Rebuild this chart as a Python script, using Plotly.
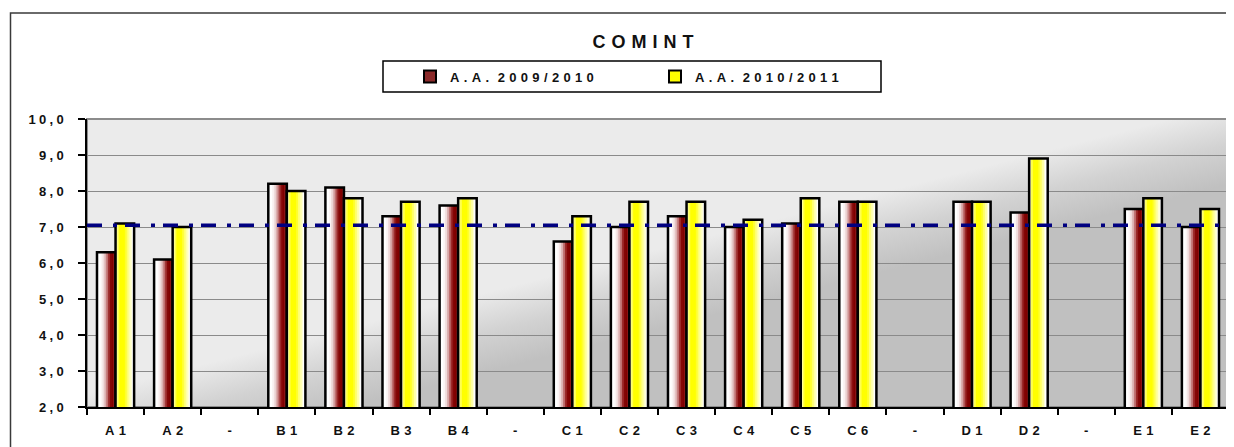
import base64

import plotly.graph_objects as go

# dati
categorie = ["A\u20041", "A\u20042", "-", "B\u20041", "B\u20042", "B\u20043", "B\u20044", "-",
             "C\u20041", "C\u20042", "C\u20043", "C\u20044", "C\u20045", "C\u20046", "-",
             "D\u20041", "D\u20042", "-", "E\u20041", "E\u20042"]
aa_2009_2010 = [6.3, 6.1, None, 8.2, 8.1, 7.3, 7.6, None, 6.6, 7.0, 7.3, 7.0,
                7.1, 7.7, None, 7.7, 7.4, None, 7.5, 7.0]
aa_2010_2011 = [7.1, 7.0, None, 8.0, 7.8, 7.7, 7.8, None, 7.3, 7.7, 7.7, 7.2,
                7.8, 7.7, None, 7.7, 8.9, None, 7.8, 7.5]
media = 7.05
y_ticks = [2, 3, 4, 5, 6, 7, 8, 9, 10]
y_tick_labels = ["2\u2005,\u20050", "3\u2005,\u20050", "4\u2005,\u20050", "5\u2005,\u20050",
                 "6\u2005,\u20050", "7\u2005,\u20050", "8\u2005,\u20050", "9\u2005,\u20050",
                 "1\u20050\u2005,\u20050"]
sp = "\u2004"
serie = [
    (sp.join("A.A.") + sp + sp + sp.join("2009/2010"), aa_2009_2010, "#8b2a2a",
     ["#ffffff", "#ffffff", "#fbf4f4", "#f0dcdc", "#dcb0b0", "#c07070", "#9c2a2a", "#840606", "#800000", "#8a1414"]),
    (sp.join("A.A.") + sp + sp + sp.join("2010/2011"), aa_2010_2011, "#ffff00",
     ["#ffffc0", "#ffff50", "#ffff00", "#ffff00", "#ffff00", "#ffff30", "#ffff70", "#ffffa8", "#ffffd8", "#ffffff"]),
]

FONT = "Arial, Liberation Sans, sans-serif"
# la pagina html ha un margine di 8 px: le coordinate sotto sono quelle dello schermo
OX, OY = 8, 8
W, H = 1234 - OX, 447 - OY
L, R, T, B = 87 - OX, 5, 119 - OY, 40
PW, PH = W - L - R, H - T - B
BAR_W = 0.325


def px_x(sx):
    return (sx - OX - L) / PW


def px_y(sy):
    return 1 - (sy - OY - T) / PH


x = list(range(len(categorie)))

# sfondo sfumato diagonale dell'area del grafico
bg_svg = f"""<svg xmlns="http://www.w3.org/2000/svg" width="{PW}" height="{PH}" viewBox="0 0 {PW} {PH}" preserveAspectRatio="none">
<defs><linearGradient id="g" gradientUnits="userSpaceOnUse" x1="603" y1="122" x2="622" y2="197">
<stop offset="0" stop-color="#ebebeb"/><stop offset="0.5" stop-color="#d2d2d2"/><stop offset="1" stop-color="#c0c0c0"/>
</linearGradient></defs><rect width="{PW}" height="{PH}" fill="url(#g)"/></svg>"""
bg_uri = "data:image/svg+xml;base64," + base64.b64encode(bg_svg.encode()).decode()

fig = go.Figure()

for k, (nome, valori, colore, sfumatura) in enumerate(serie):
    start = -BAR_W if k == 0 else 0.0
    n = len(sfumatura)
    for i, c in enumerate(sfumatura):
        fig.add_trace(go.Bar(
            x=x, y=valori, offset=start + i * BAR_W / n, width=BAR_W - i * BAR_W / n,
            marker=dict(color=c, line=dict(width=0)), showlegend=False, hoverinfo="skip",
        ))
    fig.add_trace(go.Bar(
        x=x, y=valori, offset=start, width=BAR_W, name=nome, showlegend=False,
        marker=dict(color="rgba(0,0,0,0)", line=dict(color="black", width=2.5)),
    ))

for nome, valori, colore, sfumatura in serie:
    fig.add_trace(go.Bar(x=[None], y=[None], name=nome,
                         marker=dict(color=colore, line=dict(color="black", width=2))))

fig.add_hline(y=media, line=dict(color="#000080", width=3.5, dash="15px,11px,4px,8px"))

fig.add_layout_image(dict(source=bg_uri, xref="paper", yref="paper", x=0, y=1, sizex=1, sizey=1,
                          xanchor="left", yanchor="top", sizing="stretch", layer="below"))

# bordo dell'area del grafico, riquadro della legenda e cornice esterna
fig.add_shape(type="rect", xref="paper", yref="paper", x0=0, x1=1, y0=0, y1=1,
              line=dict(color="#8c8c8c", width=2), layer="below")
fig.add_shape(type="rect", xref="paper", yref="paper",
              x0=px_x(383), x1=px_x(881), y0=px_y(92), y1=px_y(61),
              line=dict(color="black", width=1.5), fillcolor="white", layer="below")
fig.add_shape(type="rect", xref="paper", yref="paper",
              x0=px_x(10.5), x1=1.2, y0=-0.5, y1=px_y(13),
              line=dict(color="#3a3a3a", width=1.5))

fig.update_layout(
    width=W, height=H,
    margin=dict(l=L, r=R, t=T, b=B, autoexpand=False),
    paper_bgcolor="white", plot_bgcolor="rgba(0,0,0,0)",
    barmode="overlay",
    font=dict(family=FONT, color="#111111", size=12),
    title=dict(text="C\u2004O\u2004M\u2004I\u2004N\u2004T", x=px_x(643), xref="paper", xanchor="center",
               y=1 - (42 - OY) / H, yref="container", yanchor="middle",
               font=dict(family=FONT, size=18, weight="bold", color="#111111")),
    legend=dict(orientation="h", x=px_x(410), xanchor="left", y=px_y(76.5), yanchor="middle",
                borderwidth=0, bgcolor="rgba(0,0,0,0)",
                font=dict(family=FONT, size=13, weight="bold", color="#111111"),
                entrywidth=200, itemwidth=30, traceorder="normal"),
    showlegend=True,
)

fig.update_xaxes(range=[-0.5, len(categorie) - 0.5], tickmode="array", tickvals=x, ticktext=categorie,
                 ticks="", showgrid=False, zeroline=False, showline=True, linecolor="black", linewidth=1.5,
                 ticklabelstandoff=11,
                 tickfont=dict(family=FONT, size=13, weight="bold", color="#111111"),
                 minor=dict(tickmode="array", tickvals=[v - 0.5 for v in x] + [len(x) - 0.5],
                            ticks="outside", ticklen=6, tickcolor="black", tickwidth=1.5, showgrid=False),
                 fixedrange=True)
fig.update_yaxes(range=[2, 10], tickmode="array", tickvals=y_ticks, ticktext=y_tick_labels,
                 ticks="outside", ticklen=7, tickcolor="black", tickwidth=1.5,
                 showgrid=True, gridcolor="#8a8a8a", gridwidth=1, zeroline=False,
                 showline=True, linecolor="black", linewidth=1.5,
                 ticklabelstandoff=12,
                 tickfont=dict(family=FONT, size=13, weight="bold", color="#111111"),
                 fixedrange=True)

fig.write_html("out.html")
